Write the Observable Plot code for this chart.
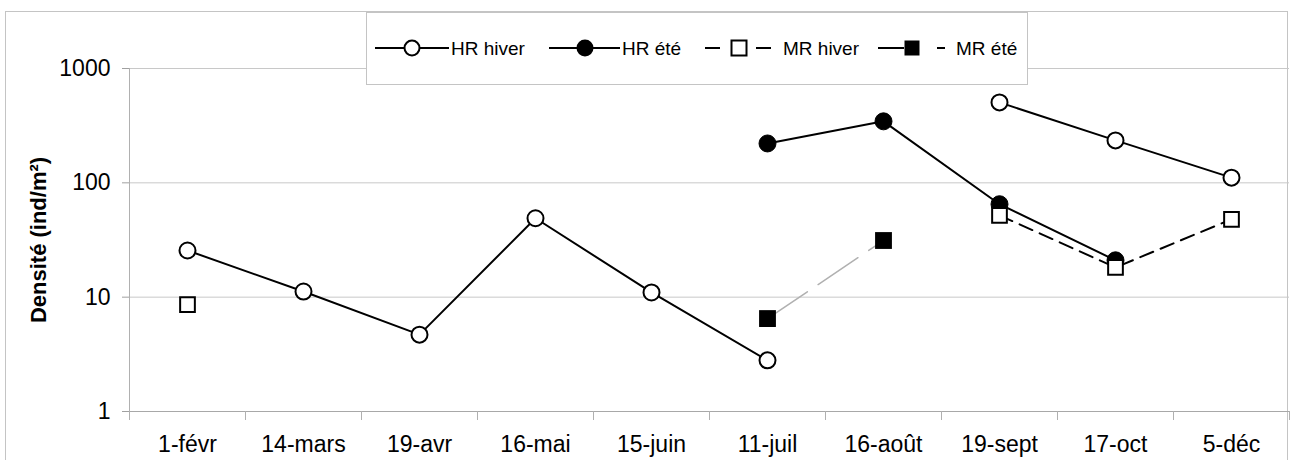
<!DOCTYPE html>
<html>
<head>
<meta charset="utf-8">
<script src="https://cdn.jsdelivr.net/npm/d3@7"></script>
<script src="https://cdn.jsdelivr.net/npm/@observablehq/plot@0.6"></script>
<style>
  html, body { margin: 0; padding: 0; background: #fff; }
  #wrap { position: relative; width: 1297px; height: 460px; overflow: hidden; font-family: "Liberation Sans", Arial, sans-serif; }
  #frame { position: absolute; left: 5px; top: 11px; width: 1283px; height: 470px; border: 1px solid #c4c4c4; box-sizing: border-box; }
  #chart { position: absolute; left: 0; top: 0; }
  #legend { position: absolute; left: 366px; top: 12px; }
</style>
</head>
<body>
<div id="wrap">
  <div id="frame"></div>
  <div id="chart"></div>
  <div id="legend"></div>
</div>
<script>
// ---- data ----
const categories = ["1-févr", "14-mars", "19-avr", "16-mai", "15-juin", "11-juil", "16-août", "19-sept", "17-oct", "5-déc"];
const hrHiver = [25.6, 11.2, 4.7, 49, 11.0, 2.8, null, 505, 235, 111];
const hrEte   = [null, null, null, null, null, 221, 345, 65, 21, null];
const mrHiver = [8.6, null, null, null, null, null, null, 52, 18.2, 48];
const mrEte   = [null, null, null, null, null, 6.5, 31.3, null, null, null];
const yTicks = [1, 10, 100, 1000];
const seriesNames = ["HR hiver", "HR été", "MR hiver", "MR été"];
const yTitle = "Densité (ind/m²)";

// ---- build rows ----
const idx = categories.map((_, i) => i);
const rows = vals => idx.map(i => ({i, v: vals[i] == null ? NaN : vals[i]}));
const pts = vals => rows(vals).filter(d => !isNaN(d.v));
const bounds = d3.range(categories.length + 1).map(i => i - 0.5);

const chart = Plot.plot({
  width: 1297,
  height: 460,
  marginLeft: 129,
  marginRight: 8,
  marginTop: 68,
  marginBottom: 49,
  style: {fontFamily: "'Liberation Sans', Arial, sans-serif", fontSize: "23px", background: "transparent", color: "#000", overflow: "visible"},
  x: {type: "linear", domain: [-0.5, categories.length - 0.5], axis: null, label: null},
  y: {type: "log", domain: [1, 1000], axis: null, label: null},
  marks: [
    Plot.gridY(yTicks, {stroke: "#c8c8c8", strokeOpacity: 1, strokeWidth: 1}),
    Plot.ruleX([-0.5], {stroke: "#b0b0b0"}),
    Plot.ruleY([1], {stroke: "#a8a8a8"}),
    Plot.axisY(yTicks, {tickSize: 7, tickPadding: 12, tickFormat: d => String(d), stroke: "#a0a0a0", fill: "#000", label: null}),
    Plot.axisX(bounds, {tickSize: 9, tickFormat: () => "", stroke: "#b0b0b0", label: null}),
    Plot.axisX(idx, {tickSize: 0, tickPadding: 24, tickFormat: i => categories[i], fill: "#000", label: null}),
    Plot.text([yTitle], {frameAnchor: "left", textAnchor: "middle", dx: -91, rotate: -90, fontWeight: "bold", fontSize: 22, text: d => d, fill: "#000"}),
    // MR été
    Plot.line(rows(mrEte), {x: "i", y: "v", stroke: "#b0b0b0", strokeWidth: 1.5, strokeDasharray: "48,13"}),
    Plot.dot(pts(mrEte), {x: "i", y: "v", symbol: "square", r: 9.5, fill: "#000", stroke: "none"}),
    // HR hiver
    Plot.line(rows(hrHiver), {x: "i", y: "v", stroke: "#000", strokeWidth: 2}),
    Plot.dot(pts(hrHiver), {x: "i", y: "v", r: 8, fill: "#fff", stroke: "#000", strokeWidth: 2}),
    // HR été
    Plot.line(rows(hrEte), {x: "i", y: "v", stroke: "#000", strokeWidth: 2}),
    Plot.dot(pts(hrEte), {x: "i", y: "v", r: 8.5, fill: "#000", stroke: "#000", strokeWidth: 1}),
    // MR hiver
    Plot.line(rows(mrHiver), {x: "i", y: "v", stroke: "#000", strokeWidth: 2, strokeDasharray: "14,8"}),
    Plot.dot(pts(mrHiver), {x: "i", y: "v", symbol: "square", r: 8.3, fill: "#fff", stroke: "#000", strokeWidth: 2})
  ]
});
document.getElementById("chart").appendChild(chart);

// ---- legend (box overlapping the top of the plot) ----
const lw = 662, lh = 73, cy = 36;
const lg = d3.select("#legend").append("svg").attr("width", lw).attr("height", lh)
  .style("font-family", "'Liberation Sans', Arial, sans-serif").style("font-size", "19px");
lg.append("rect").attr("x", 0.5).attr("y", 0.5).attr("width", lw - 1).attr("height", lh - 1)
  .attr("fill", "#fff").attr("stroke", "#c4c4c4");
const items = [
  {x0: 9,   x1: 83,  mx: 46,  tx: 85,  sym: "circle", fill: "#fff", dash: null},
  {x0: 183, x1: 254, mx: 219, tx: 256, sym: "circle", fill: "#000", dash: null},
  {x0: 339, x1: 406, mx: 373, tx: 417, sym: "square", fill: "#fff", dash: "15,36"},
  {x0: 512, x1: 579, mx: 546, tx: 590, sym: "square", fill: "#000", dash: "26,33"}
];
items.forEach((it, k) => {
  const g = lg.append("g");
  g.append("line").attr("x1", it.x0).attr("x2", it.x1).attr("y1", cy).attr("y2", cy)
    .attr("stroke", "#000").attr("stroke-width", 2).attr("stroke-dasharray", it.dash);
  if (it.sym === "circle") {
    g.append("circle").attr("cx", it.mx).attr("cy", cy).attr("r", 7.5)
      .attr("fill", it.fill).attr("stroke", "#000").attr("stroke-width", 2);
  } else {
    g.append("rect").attr("x", it.mx - 7.5).attr("y", cy - 7.5).attr("width", 15).attr("height", 15)
      .attr("fill", it.fill).attr("stroke", "#000").attr("stroke-width", it.fill === "#fff" ? 2 : 0);
  }
  g.append("text").attr("x", it.tx).attr("y", cy).attr("dy", "0.35em").attr("fill", "#000").text(seriesNames[k]);
});
</script>
</body>
</html>
